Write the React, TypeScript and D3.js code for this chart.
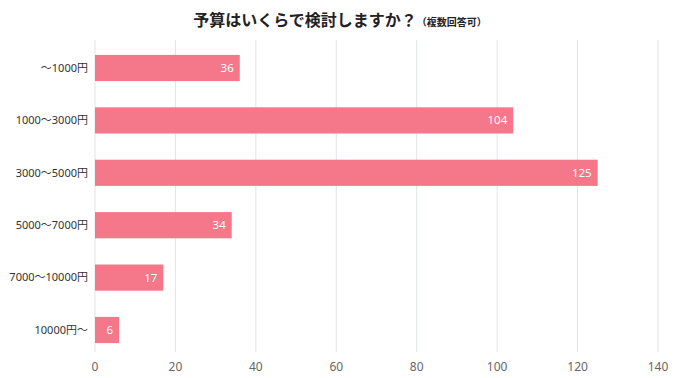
import React from "react";
import * as d3 from "d3";

const categories = ["～1000円", "1000～3000円", "3000～5000円", "5000～7000円", "7000～10000円", "10000円～"];
const values = [36, 104, 125, 34, 17, 6];
const xTicks = [0, 20, 40, 60, 80, 100, 120, 140];

const W = 680, H = 378;
const font = "'Noto Sans', 'Noto Sans CJK JP', sans-serif";

export default function App() {
  const x = d3.scaleLinear().domain([0, 140]).range([95, 658]);
  const y = d3.scaleBand<string>().domain(categories).range([41.8, 356.2]).paddingInner(0.5).paddingOuter(0.25);
  return (
    <svg width={W} height={H} style={{ position: "absolute", left: 0, top: 0, background: "#fff" }} fontFamily={font}>
      <text x={340} y={26} textAnchor="middle" fontSize={16} fontWeight={700} fill="#222" fontFamily="'Noto Sans CJK JP', sans-serif">
        予算はいくらで検討しますか？<tspan fontSize={10}>（複数回答可）</tspan>
      </text>
      {xTicks.map((t) => (
        <g key={t}>
          <line x1={x(t)} x2={x(t)} y1={40} y2={352} stroke="#dfe5e8" strokeWidth={1} />
          <text x={x(t)} y={371} textAnchor="middle" fontSize={12} fill="#666">{t}</text>
        </g>
      ))}
      {categories.map((c, i) => (
        <g key={c}>
          <rect x={x(0)} y={y(c)!} width={x(values[i]) - x(0)} height={y.bandwidth()} fill="#f5788a" />
          <text x={x(values[i]) - 6} y={y(c)! + y.bandwidth() / 2} dy="0.35em" textAnchor="end" fontSize={11.5} fill="#fff">{values[i]}</text>
          <text x={88} y={y(c)! + y.bandwidth() / 2} dy="0.35em" textAnchor="end" fontSize={11} fill="#333">{c}</text>
        </g>
      ))}
    </svg>
  );
}
